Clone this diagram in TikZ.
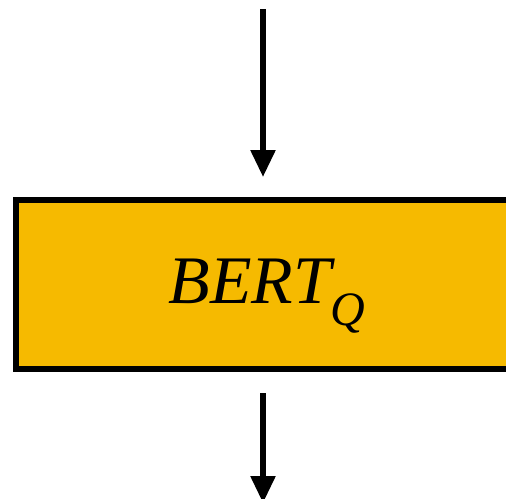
\documentclass[tikz,border=0pt]{standalone}
\usepackage{fontspec}
\setmainfont{LiberationSerif}[Extension=.ttf,UprightFont=*-Regular,ItalicFont=*-Italic]
\usetikzlibrary{arrows.meta}

\definecolor{bertfill}{RGB}{246,186,0}

\begin{document}
\begin{tikzpicture}[x=1pt,y=-1pt,
		flow/.style={line width=5.5pt,-{Triangle[width=24pt,length=27pt]}},
		encoder/.style={draw,line width=6pt,fill=bertfill,minimum width=502pt,minimum height=169pt,
			inner sep=0pt,text height=37pt,text depth=0pt}]

		\useasboundingbox (0,0) rectangle (506,498);
		\clip (0,0) rectangle (506,498);

		\node [encoder] (bertq) at (267,284.5)
			{\fontsize{68}{68}\selectfont\itshape BERT\raisebox{-22pt}{\fontsize{48}{48}\selectfont Q}};

		\coordinate (in) at (263,9);
		\coordinate (out) at (263,503);

		\draw [flow, shorten >=20pt] (in) -- (in |- bertq.north);
		\draw [flow, shorten <=21pt] (out |- bertq.south) -- (out);

\end{tikzpicture}
\end{document}
